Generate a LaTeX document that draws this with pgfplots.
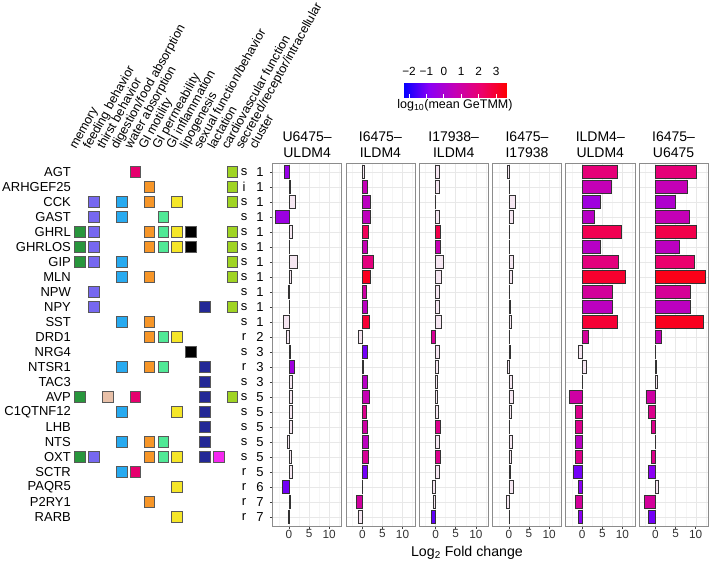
\documentclass[border=0pt]{standalone}
\usepackage{fontspec}
\setmainfont{Liberation Sans}
\usepackage{pgfplots}
\usepackage{pgfplotstable}
\pgfplotsset{compat=1.18}

% category colours of the annotation matrix
\definecolor{cMem}{RGB}{40,150,60}
\definecolor{cFeed}{RGB}{118,104,240}
\definecolor{cThirst}{RGB}{232,192,168}
\definecolor{cDig}{RGB}{40,170,240}
\definecolor{cWater}{RGB}{230,0,110}
\definecolor{cMot}{RGB}{247,150,40}
\definecolor{cPerm}{RGB}{80,232,150}
\definecolor{cInfl}{RGB}{245,230,40}
\definecolor{cLipo}{RGB}{0,0,0}
\definecolor{cSex}{RGB}{35,40,150}
\definecolor{cLact}{RGB}{245,40,240}
\definecolor{cCardio}{RGB}{160,212,35}
\definecolor{pale}{RGB}{245,230,241}

\newcommand\fgene{\fontsize{13}{15}\selectfont}
\newcommand\fhead{\fontsize{12.5}{14}\selectfont}
\newcommand\ftitle{\fontsize{14}{16}\selectfont}
\newcommand\ftick{\fontsize{11.8}{13}\selectfont}
\newcommand\flab{\fontsize{14.2}{16}\selectfont}
\newcommand\fcb{\fontsize{12.5}{14}\selectfont}

% row: 1 AGT ... 24 RARB; fc = log2 fold change; meta = log10(mean GeTMM); sig = coloured bar
\pgfplotstableread{
row fc meta sig
1 -1.1 -0.5 1
2 0.4 0 0
3 1.5 0 0
4 -3.3 -0.4 1
5 0.9 0 0
6 0.05 0 0
7 2.1 0 0
8 0.5 0 0
9 -0.3 0 0
10 0.1 0 0
11 -1.4 0 0
12 -0.8 0 0
13 0.4 0 0
14 1.2 -0.3 1
15 0.8 0 0
16 0.8 0 0
17 0.8 0 0
18 0.7 0 0
19 -0.4 0 0
20 0.6 0 0
21 0.9 0 0
22 -1.6 -1.1 1
23 0.2 0 0
24 -0.3 0 0
}\tabA
\pgfplotstableread{
row fc meta sig
1 0.6 0 0
2 1.2 0.65 1
3 1.9 0.4 1
4 1.9 0.5 1
5 1.4 2.4 1
6 1.3 0.7 1
7 2.8 1.8 1
8 2.0 3.2 1
9 1.1 1.0 1
10 1.2 0.4 1
11 1.8 2.9 1
12 -1.0 0 0
13 1.3 -1.1 1
14 0.3 0 0
15 1.3 0.3 1
16 1.7 0.7 1
17 1.1 1.5 1
18 1.3 1.0 1
19 1.6 0.4 1
20 1.5 1.3 1
21 1.3 -1.1 1
22 0.1 0 0
23 -1.5 1.1 1
24 -1.1 0 0
}\tabB
\pgfplotstableread{
row fc meta sig
1 0.8 0 0
2 1.0 0 0
3 -0.2 0 0
4 0.8 0 0
5 1.1 2.6 1
6 1.2 0.7 1
7 1.8 0 0
8 1.3 0 0
9 0.8 0 0
10 0.8 0 0
11 1.3 0 0
12 -1.1 1.3 1
13 1.0 0 0
14 0.6 0 0
15 0.5 0 0
16 0.5 0 0
17 0.7 0 0
18 1.1 1.5 1
19 0.8 0 0
20 1.1 1.5 1
21 1.0 0 0
22 -0.8 0 0
23 -0.7 0 0
24 -1.1 -1.3 1
}\tabC
\pgfplotstableread{
row fc meta sig
1 -0.3 0 0
2 0.2 0 0
3 1.7 0 0
4 1.2 0 0
5 0.2 0 0
6 0.1 0 0
7 1.0 0 0
8 0.8 0 0
9 0.2 0 0
10 0.4 0 0
11 0.5 0 0
12 0.2 0 0
13 0.3 0 0
14 -0.3 0 0
15 0.8 0 0
16 1.2 0 0
17 0.5 0 0
18 0.2 0 0
19 0.9 0 0
20 0.5 0 0
21 0.4 0 0
22 1.0 0 0
23 -0.7 0 0
24 0.2 0 0
}\tabD
\pgfplotstableread{
row fc meta sig
1 8.75 1.9 1
2 7.25 0.65 1
3 4.6 -0.3 1
4 3.1 0.3 1
5 9.8 2.5 1
6 4.6 0.3 1
7 9.0 1.8 1
8 10.8 3.0 1
9 7.5 1.2 1
10 7.5 0.4 1
11 8.8 2.9 1
12 1.6 1.2 1
13 -1.0 0 0
14 1.1 0 0
15 0.1 0 0
16 -3.25 1.0 1
17 -1.8 1.5 1
18 -1.6 1.5 1
19 -1.8 0.4 1
20 -1.8 1.5 1
21 -2.1 -1.1 1
22 -1.1 -0.8 1
23 -1.6 1.2 1
24 -1.0 -0.8 1
}\tabE
\pgfplotstableread{
row fc meta sig
1 10.2 1.9 1
2 7.9 0.65 1
3 5.0 0.1 1
4 8.3 0.65 1
5 10.2 2.6 1
6 5.8 0.4 1
7 9.6 2.1 1
8 12.3 3.3 1
9 8.6 1.3 1
10 8.6 0.4 1
11 11.9 3.2 1
12 1.4 0.65 1
13 0.05 0 0
14 0.1 0 0
15 0.4 0 0
16 -2.3 1.0 1
17 -1.7 1.5 1
18 -1.0 1.5 1
19 -0.1 0 0
20 -1.0 1.5 1
21 -1.7 -0.8 1
22 0.6 0 0
23 -2.9 1.2 1
24 -1.7 -1.1 1
}\tabF
\pgfplotstableread{
row t c
1 s 1
2 i 1
3 s 1
4 s 1
5 s 1
6 s 1
7 s 1
8 s 1
9 s 1
10 s 1
11 s 1
12 r 2
13 s 3
14 r 3
15 s 3
16 s 5
17 s 5
18 s 5
19 s 5
20 s 5
21 r 5
22 r 6
23 r 7
24 r 7
}\tabInfo

\tikzset{hdr/.style={rotate=61, anchor=base west, font=\fhead, inner sep=0pt}}

% a bar drawn from the mark position (x = 0) to \barlen pt
\pgfdeclareplotmark{hbar}{%
  \pgfpathrectangle{\pgfpoint{0pt}{-6.75pt}}{\pgfpoint{\barlen pt}{13.5pt}}%
  \pgfusepathqfillstroke}

\pgfplotsset{
  colormap={gete}{rgb255=(0,0,255) rgb255=(138,0,245) rgb255=(196,0,182) rgb255=(236,0,108) rgb255=(255,0,0)},
  panel/.style={
    scale only axis, width=69.2pt, height=363pt, anchor=south west,
    xmin=-4.1, xmax=13.1, ymin=0.4, ymax=24.6, y dir=reverse,
    xtick={0,5,10}, minor xtick={-2.5,2.5,7.5,12.5},
    ytick={1,...,24}, yticklabels={},
    xmajorgrids, xminorgrids, ymajorgrids,
    major grid style={color=black!9, line width=0.45pt},
    minor grid style={color=black!4, line width=0.35pt},
    axis line style={color=black!45, line width=0.6pt},
    tick align=outside, major tick length=2.6pt, minor tick length=0pt,
    xtick pos=left, ytick pos=left,
    x tick style={color=black!75, line width=0.5pt},
    y tick style={draw=none},
    xticklabel style={font=\ftick, inner sep=1pt, text=black!80},
    /pgf/number format/assume math mode=true,
    title style={at={(0.5,1)}, anchor=south, align=center, font=\ftitle, inner sep=1pt, yshift=-2pt},
    colormap name=gete, point meta min=-2.345, point meta max=3.63,
  },
  palebar/.style={xbar, bar shift=0pt, bar width=13.5pt, fill=pale, draw=black!80, line width=0.55pt,
    restrict expr to domain={\thisrow{sig}}{-0.5:0.5}},
  % 69.2pt / 17.2 units = 4.0233pt per unit of log2 fold change
  colbar/.style={only marks, scatter, mark=hbar, point meta=explicit,
    scatter/use mapped color={draw=black!80, fill=mapped color},
    mark options={line width=0.55pt},
    visualization depends on={\thisrow{fc}*4.0233 \as \barlen},
    restrict expr to domain={\thisrow{sig}}{0.5:1.5}},
  mem/.style={only marks, mark=square*, mark size=5.3pt, mark options={fill=#1, draw=black!65, line width=0.5pt}},
}

\begin{document}
\begin{tikzpicture}
\useasboundingbox (0,0) rectangle (709pt,562pt);

% annotation matrix
\begin{axis}[
  scale only axis, width=193.9pt, height=363pt, anchor=south west, at={(73.05pt,36pt)},
  xmin=0.5, xmax=14.5, ymin=0.4, ymax=24.6, y dir=reverse, clip=false,
  axis line style={draw=none}, tick style={draw=none}, major tick length=0pt,
  xtick=\empty, ytick={1,...,24},
  yticklabels={AGT,ARHGEF25,CCK,GAST,GHRL,GHRLOS,GIP,MLN,NPW,NPY,SST,DRD1,NRG4,NTSR1,TAC3,AVP,C1QTNF12,LHB,NTS,OXT,SCTR,PAQR5,P2RY1,RARB},
  yticklabel style={font=\fgene, inner sep=2pt},
  every node near coord/.style={font=\fgene, anchor=center, inner sep=0pt},
]
\addplot[mem=cMem] coordinates {(1,5) (1,6) (1,7) (1,16) (1,20)};
\addplot[mem=cFeed] coordinates {(2,3) (2,4) (2,5) (2,6) (2,7) (2,9) (2,10) (2,20)};
\addplot[mem=cThirst] coordinates {(3,16)};
\addplot[mem=cDig] coordinates {(4,3) (4,4) (4,7) (4,8) (4,11) (4,14) (4,17) (4,19) (4,21)};
\addplot[mem=cWater] coordinates {(5,1) (5,16) (5,21)};
\addplot[mem=cMot] coordinates {(6,2) (6,3) (6,5) (6,6) (6,8) (6,11) (6,12) (6,14) (6,19) (6,20) (6,23)};
\addplot[mem=cPerm] coordinates {(7,4) (7,5) (7,6) (7,12) (7,14) (7,19) (7,20)};
\addplot[mem=cInfl] coordinates {(8,3) (8,5) (8,6) (8,12) (8,17) (8,20) (8,22) (8,24)};
\addplot[mem=cLipo] coordinates {(9,5) (9,6) (9,13)};
\addplot[mem=cSex] coordinates {(10,10) (10,14) (10,15) (10,16) (10,17) (10,18) (10,19) (10,20)};
\addplot[mem=cLact] coordinates {(11,20)};
\addplot[mem=cCardio] coordinates {(12,1) (12,2) (12,3) (12,5) (12,6) (12,7) (12,8) (12,10) (12,16)};
\addplot[only marks, mark=none, nodes near coords, point meta=explicit symbolic] table[x expr=12.85, y=row, meta=t] {\tabInfo};
\addplot[only marks, mark=none, nodes near coords, point meta=explicit symbolic] table[x expr=14, y=row, meta=c] {\tabInfo};
\node[hdr] at ([shift={(-4pt,13pt)}]axis cs:1,0.4) {memory};
\node[hdr] at ([shift={(-4pt,13pt)}]axis cs:2,0.4) {feeding behavior};
\node[hdr] at ([shift={(-4pt,13pt)}]axis cs:3,0.4) {thirst behavior};
\node[hdr] at ([shift={(-4pt,13pt)}]axis cs:4,0.4) {digestion/food absorption};
\node[hdr] at ([shift={(-4pt,13pt)}]axis cs:5,0.4) {water absorption};
\node[hdr] at ([shift={(-4pt,13pt)}]axis cs:6,0.4) {GI motility};
\node[hdr] at ([shift={(-4pt,13pt)}]axis cs:7,0.4) {GI permeability};
\node[hdr] at ([shift={(-4pt,13pt)}]axis cs:8,0.4) {GI inflammation};
\node[hdr] at ([shift={(-4pt,13pt)}]axis cs:9,0.4) {lipogenesis};
\node[hdr] at ([shift={(-4pt,13pt)}]axis cs:10,0.4) {sexual function/behavior};
\node[hdr] at ([shift={(-4pt,13pt)}]axis cs:11,0.4) {lactation};
\node[hdr] at ([shift={(-4pt,13pt)}]axis cs:12,0.4) {cardiovascular function};
\node[hdr] at ([shift={(-4pt,13pt)}]axis cs:13,0.4) {secreted/receptor/intracellular};
\node[hdr] at ([shift={(-4pt,13pt)}]axis cs:14,0.4) {cluster};
\end{axis}

% fold-change panels
\begin{axis}[panel, at={(272.5pt,36pt)}, title={U6475–\\ULDM4}, y tick style={draw=black!75, line width=0.5pt}]
\addplot[palebar] table[x=fc, y=row] {\tabA};
\addplot[colbar] table[x expr=0, y=row, meta=meta] {\tabA};
\end{axis}

\begin{axis}[panel, at={(345.8pt,36pt)}, title={I6475–\\ILDM4}]
\addplot[palebar] table[x=fc, y=row] {\tabB};
\addplot[colbar] table[x expr=0, y=row, meta=meta] {\tabB};
\end{axis}

\begin{axis}[panel, at={(419.1pt,36pt)}, title={I17938–\\ILDM4}]
\addplot[palebar] table[x=fc, y=row] {\tabC};
\addplot[colbar] table[x expr=0, y=row, meta=meta] {\tabC};
\end{axis}

\begin{axis}[panel, at={(492.4pt,36pt)}, title={I6475–\\I17938}]
\addplot[palebar] table[x=fc, y=row] {\tabD};
\end{axis}

\begin{axis}[panel, at={(565.7pt,36pt)}, title={ILDM4–\\ULDM4}]
\addplot[palebar] table[x=fc, y=row] {\tabE};
\addplot[colbar] table[x expr=0, y=row, meta=meta] {\tabE};
\end{axis}

\begin{axis}[panel, at={(639pt,36pt)}, title={I6475–\\U6475}]
\addplot[palebar] table[x=fc, y=row] {\tabF};
\addplot[colbar] table[x expr=0, y=row, meta=meta] {\tabF};
\end{axis}

% colour key
\begin{axis}[
  hide axis, scale only axis, width=104pt, height=21pt,
  at={(403pt,473pt)}, anchor=south west,
  xmin=0, xmax=1, ymin=0, ymax=1,
  colormap name=gete, point meta min=-2.345, point meta max=3.63,
  colorbar horizontal,
  colorbar style={
    at={(parent axis.south west)}, anchor=south west,
    scale only axis, width=104pt, height=21pt,
    xtick={-2,-1,0,1,2,3}, xticklabels={−2,−1,0,1,2,3},
    xticklabel pos=upper, xtick pos=both,
    xticklabel style={font=\ftick, inner sep=1pt},
    tick align=inside, major tick length=4pt,
    tick style={color=white, line width=0.7pt},
    axis line style={draw=none},
    xlabel={log\textsubscript{10}(mean GeTMM)},
    xlabel style={at={(axis description cs:0.5,0)}, anchor=north, font=\fcb, inner sep=1.5pt},
  },
]
\addplot[draw=none] coordinates {(0,0)};
\end{axis}

\node[anchor=base, font=\flab] at (467pt,6pt) {Log\textsubscript{2} Fold change};
\end{tikzpicture}
\end{document}
